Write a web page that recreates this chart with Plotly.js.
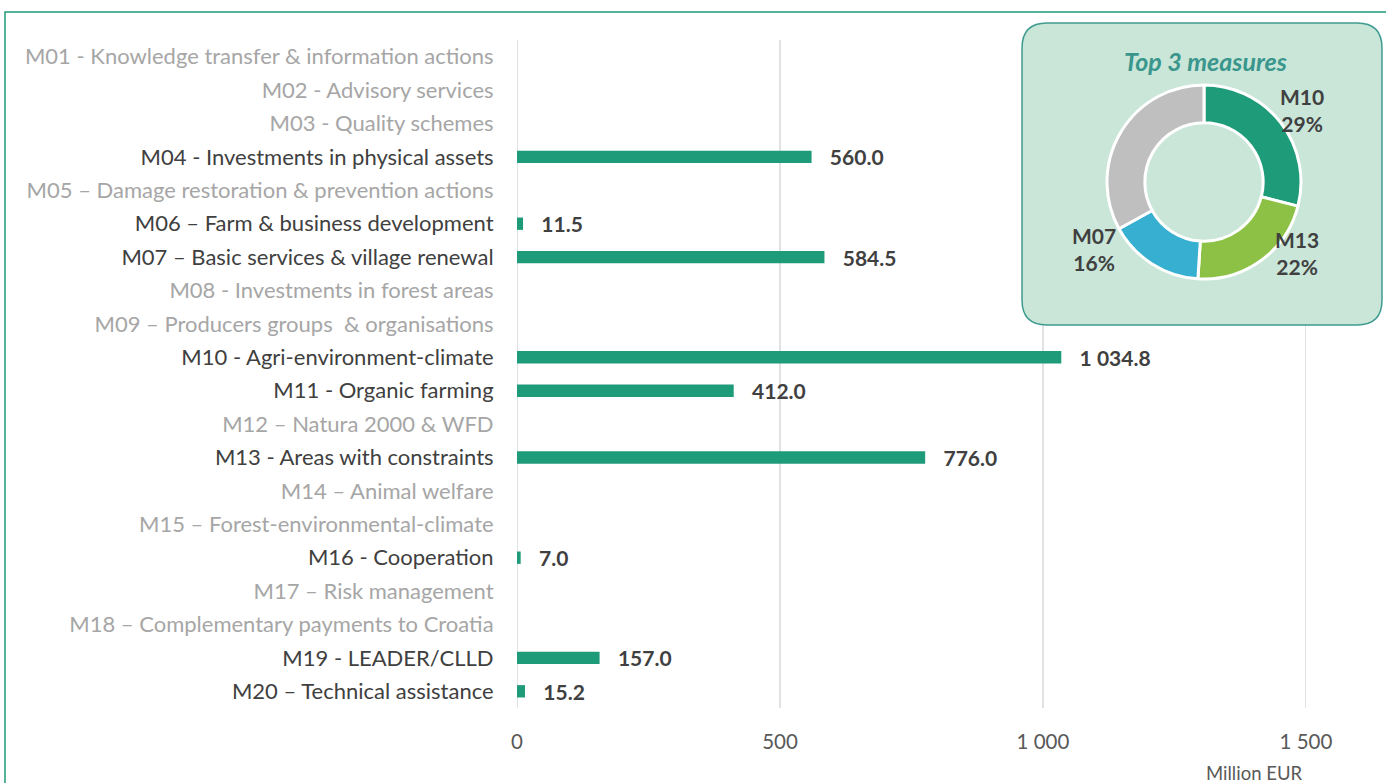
<!DOCTYPE html>
<html><head><meta charset="utf-8">
<script src="https://cdn.plot.ly/plotly-3.0.1.min.js"></script>
<style>html,body{margin:0;padding:0;background:#fff;}#chart{width:1386px;height:783px;}</style>
</head><body><div id="chart"></div>
<script>
const categories = [
 "M01 - Knowledge transfer & information actions",
 "M02 - Advisory services",
 "M03 - Quality schemes",
 "M04 - Investments in physical assets",
 "M05 – Damage restoration & prevention actions",
 "M06 – Farm & business development",
 "M07 – Basic services & village renewal",
 "M08 - Investments in forest areas",
 "M09 – Producers groups  & organisations",
 "M10 - Agri-environment-climate",
 "M11 - Organic farming",
 "M12 – Natura 2000 & WFD",
 "M13 - Areas with constraints",
 "M14 – Animal welfare",
 "M15 – Forest-environmental-climate",
 "M16 - Cooperation",
 "M17 – Risk management",
 "M18 – Complementary payments to Croatia",
 "M19 - LEADER/CLLD",
 "M20 – Technical assistance"
];
const values = [null,null,null,560.0,null,11.5,584.5,null,null,1034.8,412.0,null,776.0,null,null,7.0,null,null,157.0,15.2];
const xTicks = [0,500,1000,1500];
const donutLabels = ["M10","M13","M07","Others"];
const donutPercent = [29,22,16,33];
const donutColors = ["#1e9b78","#8cc145","#36afd0","#bfbfbf"];
const W = 1386, H = 783;
const px = x => x / W, py = y => (H - y) / H;

const tickText = categories.map((c,i) => {
  const col = values[i] === null ? "#a6a6a6" : "#404040";
  return '<span style="color:' + col + '">' + c.replace(/&/g,'&amp;') + '</span>';
});

const barTrace = {
  type: 'bar', orientation: 'h',
  y: categories, x: values,
  marker: {color: '#1e9b78'},
  texttemplate: '\u00a0\u00a0\u00a0%{x:,.1f}',
  textposition: 'outside', cliponaxis: false, constraintext: 'none',
  textfont: {family: 'Lato, sans-serif', size: 21, color: '#404040', weight: 'bold'},
  hoverinfo: 'none', showlegend: false
};
const pieTrace = {
  type: 'pie', labels: donutLabels, values: donutPercent,
  marker: {colors: donutColors, line: {color: '#ffffff', width: 3}},
  hole: 0.61, sort: false, direction: 'clockwise', rotation: 0,
  textinfo: 'none', hoverinfo: 'none', showlegend: false,
  domain: {x: [px(1107), px(1301)], y: [py(279), py(85)]}
};

const shapes = [];
shapes.push({type:'rect', xref:'paper', yref:'paper', x0:px(5), x1:px(1392), y0:py(790), y1:py(12),
  line:{color:'#1e9b78', width:1.5}, fillcolor:'rgba(0,0,0,0)', layer:'below'});
xTicks.forEach(t => shapes.push({type:'line', xref:'x', yref:'paper', x0:t, x1:t, y0:py(708), y1:py(40),
  line:{color:'#d9d9d9', width:1.5}, layer:'below'}));
(function(){
  const x0=px(1022), x1=px(1382), y0=py(325), y1=py(23), rx=25/W, ry=25/H;
  const p = `M ${x0+rx},${y1} L ${x1-rx},${y1} Q ${x1},${y1} ${x1},${y1-ry} L ${x1},${y0+ry} Q ${x1},${y0} ${x1-rx},${y0} L ${x0+rx},${y0} Q ${x0},${y0} ${x0},${y0+ry} L ${x0},${y1-ry} Q ${x0},${y1} ${x0+rx},${y1} Z`;
  shapes.push({type:'path', xref:'paper', yref:'paper', path:p, fillcolor:'#c9e6d9', line:{color:'#3f9b90', width:1.5}, layer:'below'});
})();

const labelPos = [[1302,110],[1297,253],[1094,249]];
const annotations = [
  {xref:'paper', yref:'paper', x:px(1205), y:py(61), text:'<b><i>Top 3 measures</i></b>', showarrow:false,
   font:{family:'Lato, sans-serif', size:25, color:'#3a968c'}, xanchor:'center', yanchor:'middle'},
  {xref:'paper', yref:'paper', x:px(1304), y:py(773), text:'Million EUR', showarrow:false,
   font:{family:'Lato, sans-serif', size:18.5, color:'#595959'}, xanchor:'right', yanchor:'middle'}
];
for (let i=0;i<3;i++) {
  annotations.push({xref:'paper', yref:'paper', x:px(labelPos[i][0]), y:py(labelPos[i][1]),
    text:'<b>'+donutLabels[i]+'<br>'+donutPercent[i]+'%</b>', showarrow:false,
    font:{family:'Lato, sans-serif', size:21, color:'#404040'}, xanchor:'center', yanchor:'middle', align:'center'});
}

const layout = {
  width: W, height: H,
  margin: {l:0, r:0, t:0, b:0},
  paper_bgcolor: '#ffffff', plot_bgcolor: 'rgba(0,0,0,0)',
  separators: '. ',
  font: {family: 'Lato, sans-serif', color: '#404040'},
  bargap: 0.63,
  xaxis: {domain:[px(517), px(1306)], range:[0,1500], tickvals: xTicks, tickformat: ',',
    showgrid:false, zeroline:false, showline:false,
    ticks:'outside', ticklen:15, tickcolor:'rgba(0,0,0,0)',
    tickfont:{family:'Lato, sans-serif', size:20.5, color:'#595959'}, fixedrange:true},
  yaxis: {domain:[py(708), py(40)], autorange:'reversed', type:'category',
    tickvals: categories, ticktext: tickText,
    showgrid:false, zeroline:false, showline:false,
    ticks:'outside', ticklen:18, tickcolor:'rgba(0,0,0,0)',
    tickfont:{family:'Lato, sans-serif', size:22}, automargin:false, fixedrange:true},
  shapes: shapes,
  annotations: annotations
};
Plotly.newPlot('chart', [barTrace, pieTrace], layout, {displayModeBar:false, staticPlot:true});
</script></body></html>
